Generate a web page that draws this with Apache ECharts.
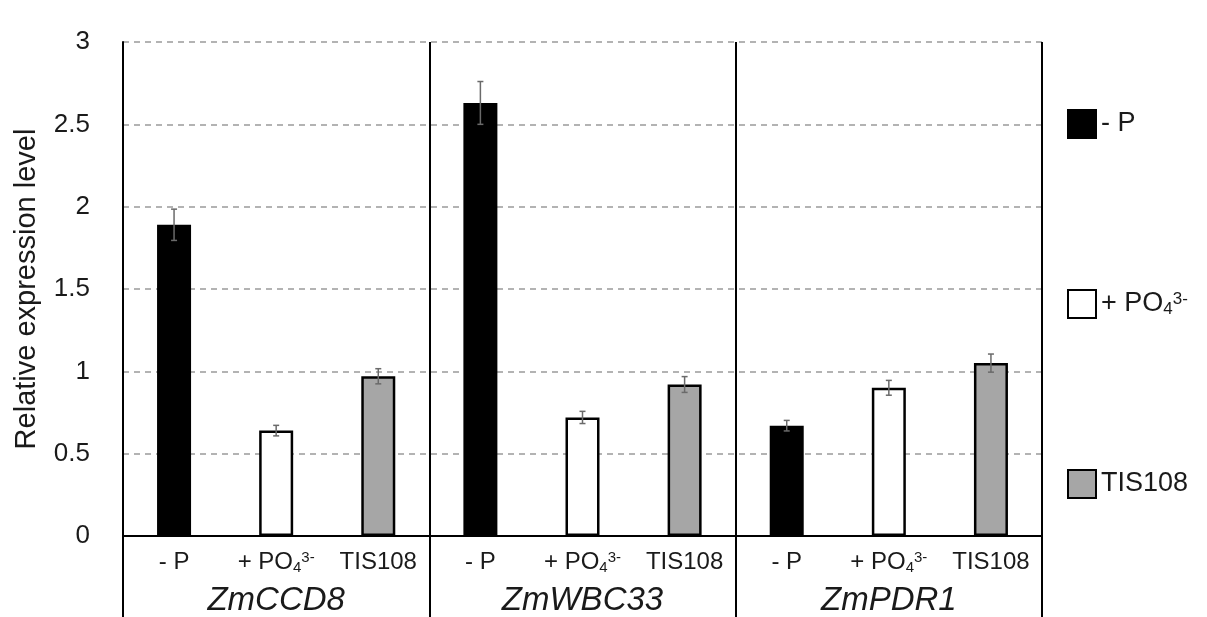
<!DOCTYPE html>
<html>
<head>
<meta charset="utf-8">
<script src="https://cdn.jsdelivr.net/npm/echarts@6/dist/echarts.min.js"></script>
<style>
  html, body { margin: 0; padding: 0; background: #fff; }
  #chart { width: 1207px; height: 617px; }
</style>
</head>
<body>
<div id="chart"></div>
<script>
// genes and treatments
var genes = ['ZmCCD8', 'ZmWBC33', 'ZmPDR1'];
var treatments = ['- P', '+ PO4', 'TIS108'];

// relative expression, one value per gene
var minusP = [1.89, 2.63, 0.67];
var plusPO4 = [0.64, 0.72, 0.90];
var tis108 = [0.97, 0.92, 1.05];

// error bar half widths
var errMinusP = [0.095, 0.13, 0.032];
var errPlusPO4 = [0.032, 0.037, 0.045];
var errTis108 = [0.046, 0.048, 0.055];

var font = '"Liberation Sans", Arial, sans-serif';
var txt = '#1a1a1a';

var cats = [];
genes.forEach(function (g) {
  treatments.forEach(function (t) { cats.push(g + '|' + t); });
});

// put each treatment's value only at its own slot
function slots(vals, k) {
  var out = [];
  vals.forEach(function (v) {
    for (var i = 0; i < 3; i++) out.push(i === k ? v : null);
  });
  return out;
}
var errPoints = [];
[[minusP, errMinusP], [plusPO4, errPlusPO4], [tis108, errTis108]].forEach(function (p, k) {
  p[0].forEach(function (v, g) {
    errPoints.push([g * 3 + k, v, p[1][g]]);
  });
});

function richFor(size) {
  return {
    sub: { fontSize: size, fontFamily: font, color: txt, verticalAlign: 'bottom', padding: [10, 0, 0, 0] },
    sup: { fontSize: size, fontFamily: font, color: txt, verticalAlign: 'top', padding: [0, 0, 10, 0] }
  };
}
function treatLabel(t) {
  return t === '+ PO4' ? '+ PO{sub|4}{sup|3-}' : t;
}

var chart = echarts.init(document.getElementById('chart'));
chart.setOption({
  animation: false,
  grid: { left: 123, right: 165, top: 42, bottom: 81 },
  legend: {
    orient: 'vertical',
    left: 1062,
    top: 104,
    itemWidth: 28,
    itemHeight: 28,
    itemGap: 150,
    icon: 'rect',
    textStyle: { fontSize: 27, fontFamily: font, color: txt, rich: richFor(17) },
    formatter: function (name) { return treatLabel(name); },
    data: treatments
  },
  xAxis: [{
    type: 'category',
    data: cats,
    axisLine: { lineStyle: { color: '#000', width: 2 } },
    axisTick: { show: false },
    axisLabel: {
      interval: 0,
      margin: 14,
      fontSize: 24,
      fontFamily: font,
      color: txt,
      rich: richFor(15),
      formatter: function (v) { return treatLabel(v.split('|')[1]); }
    }
  }, {
    type: 'category',
    data: genes,
    position: 'bottom',
    axisLine: { show: false },
    axisTick: { show: true, length: 81, lineStyle: { color: '#000', width: 2 } },
    splitLine: { show: true, lineStyle: { color: '#000', width: 2 } },
    axisLabel: {
      margin: 48,
      fontSize: 33,
      fontStyle: 'italic',
      fontFamily: font,
      color: txt
    }
  }],
  yAxis: {
    type: 'value',
    min: 0,
    max: 3,
    interval: 0.5,
    name: 'Relative expression level',
    nameLocation: 'middle',
    nameGap: 82,
    nameTextStyle: { fontSize: 29, fontFamily: font, color: txt },
    axisLine: { show: true, lineStyle: { color: '#000', width: 2 } },
    axisTick: { show: false },
    axisLabel: {
      margin: 33,
      fontSize: 26,
      fontFamily: font,
      color: txt,
      formatter: function (v) { return String(v); }
    },
    splitLine: { lineStyle: { color: '#9a9a9a', width: 1.5, type: [6, 5] } }
  },
  series: [{
    name: treatments[0],
    type: 'bar',
    data: slots(minusP, 0),
    barWidth: 34,
    barGap: '-100%',
    itemStyle: { color: '#000', borderColor: '#000', borderWidth: 2 }
  }, {
    name: treatments[1],
    type: 'bar',
    data: slots(plusPO4, 1),
    barWidth: 34,
    barGap: '-100%',
    itemStyle: { color: '#fff', borderColor: '#000', borderWidth: 2.5 }
  }, {
    name: treatments[2],
    type: 'bar',
    data: slots(tis108, 2),
    barWidth: 34,
    barGap: '-100%',
    itemStyle: { color: '#a6a6a6', borderColor: '#000', borderWidth: 2.5 }
  }, {
    type: 'custom',
    data: errPoints,
    z: 10,
    renderItem: function (params, api) {
      var x = api.value(0), v = api.value(1), e = api.value(2);
      var hi = api.coord([x, v + e]);
      var lo = api.coord([x, v - e]);
      var style = { stroke: '#6a6a6a', lineWidth: 1.5 };
      var cap = 3;
      return {
        type: 'group',
        children: [
          { type: 'line', shape: { x1: hi[0], y1: hi[1], x2: lo[0], y2: lo[1] }, style: style },
          { type: 'line', shape: { x1: hi[0] - cap, y1: hi[1], x2: hi[0] + cap, y2: hi[1] }, style: style },
          { type: 'line', shape: { x1: lo[0] - cap, y1: lo[1], x2: lo[0] + cap, y2: lo[1] }, style: style }
        ]
      };
    }
  }]
});
</script>
</body>
</html>
